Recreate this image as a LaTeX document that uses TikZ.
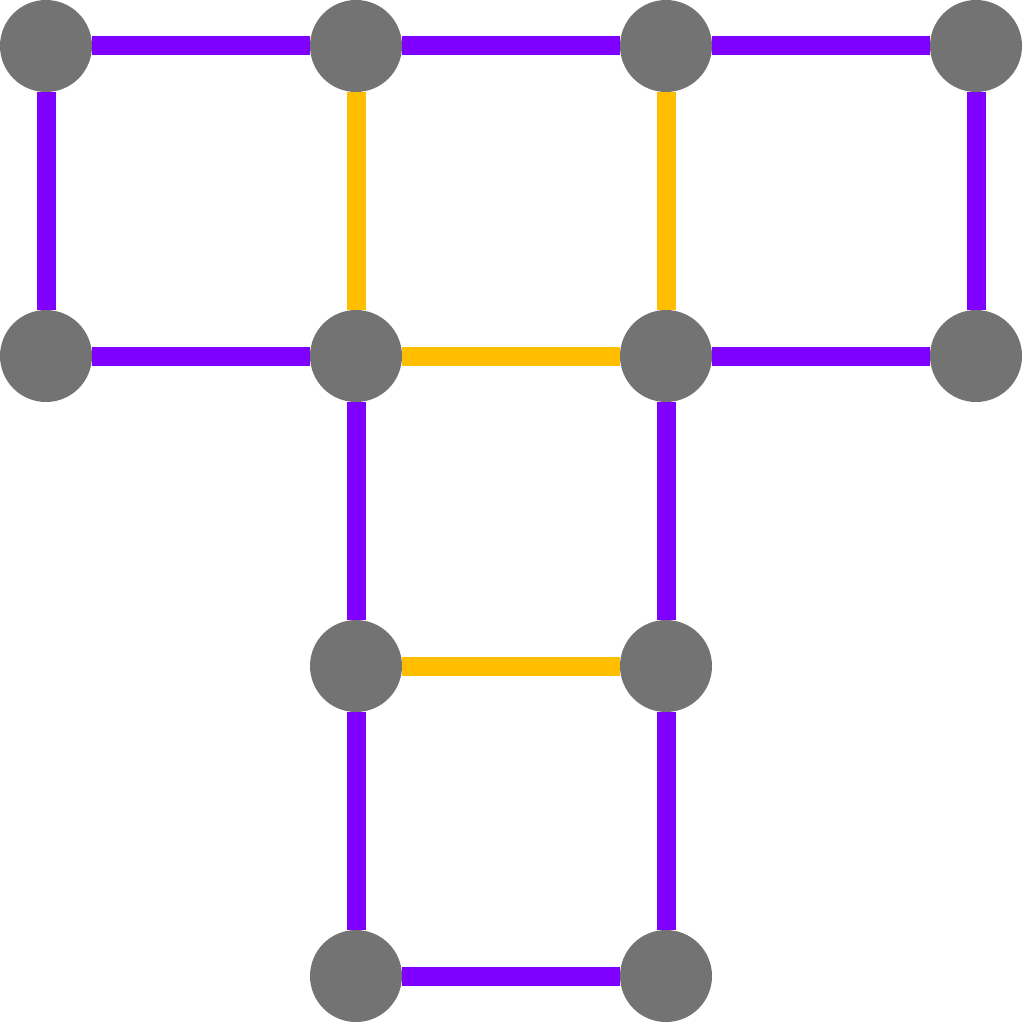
\documentclass[tikz,border=0pt]{standalone}
\definecolor{edgepurple}{HTML}{7F00FF}
\definecolor{edgeorange}{HTML}{FFBF00}
\definecolor{nodegray}{HTML}{737373}
\begin{document}
\begin{tikzpicture}[x=1pt,y=-1pt,
  vert/.style={circle,fill=nodegray,minimum size=92pt,inner sep=0pt},
  pe/.style={draw=edgepurple,line width=19pt},
  oe/.style={draw=edgeorange,line width=19pt}]
\useasboundingbox (0,0) rectangle (1024,1024);
\fill[white] (0,0) rectangle (1024,1024);
% nodes
\foreach \n/\x/\y in {00/46/46,10/356/46,20/666/46,30/976/46,
                      01/46/356,11/356/356,21/666/356,31/976/356,
                      12/356/666,22/666/666,13/356/976,23/666/976}{
  \node[vert] (n\n) at (\x,\y) {};
}
% edges
\path[pe] (n00)--(n10) (n10)--(n20) (n20)--(n30) (n00)--(n01) (n30)--(n31)
  (n01)--(n11) (n21)--(n31) (n11)--(n12) (n21)--(n22) (n12)--(n13) (n22)--(n23) (n13)--(n23);
\path[oe] (n10)--(n11) (n20)--(n21) (n11)--(n21) (n12)--(n22);
\end{tikzpicture}
\end{document}
